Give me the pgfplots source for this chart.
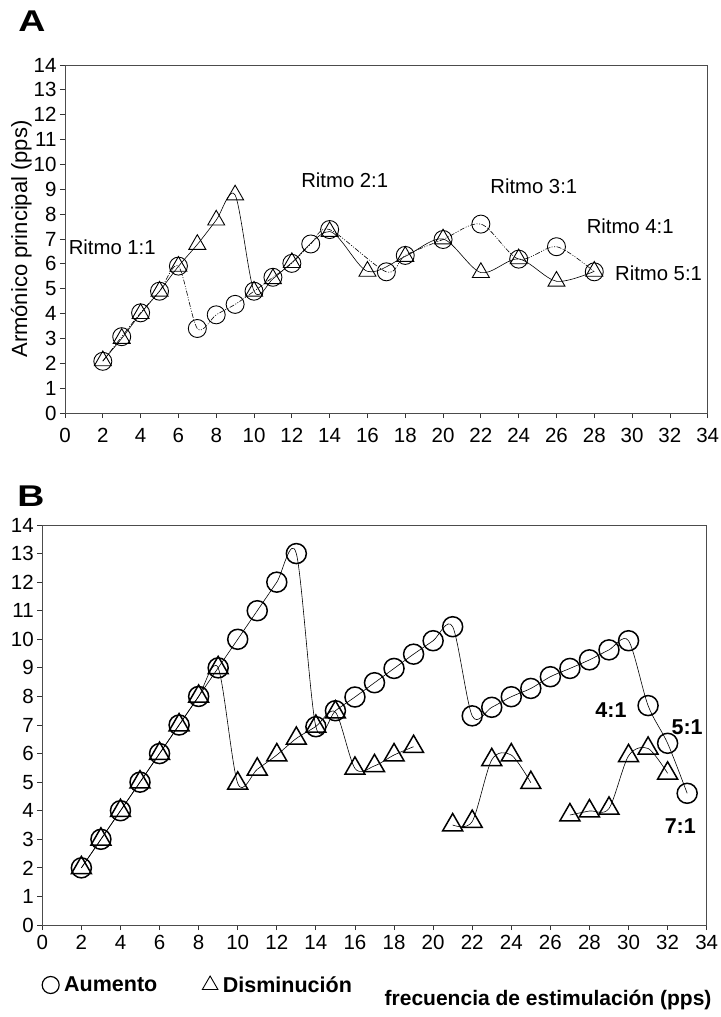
\documentclass[border=0pt]{standalone}
\usepackage{pgfplots}
\pgfplotsset{compat=1.18}
\usepackage{fontspec}
\setmainfont{Liberation Sans}
\newcommand{\fs}{\fontsize{20.3}{23}\selectfont}
\newcommand{\ft}{\fontsize{20.5}{23}\selectfont}
\newcommand{\fb}{\fontsize{21.5}{24}\selectfont\bfseries}

\pgfplotsset{
  refstyle/.style={
    scale only axis,
    xmin=0, xmax=34, ymin=0, ymax=14,
    xtick={0,2,...,34}, ytick={0,1,...,14},
    axis lines*=left,
    axis line style={-, black!70, line width=0.8pt},
    tick align=outside,
    major tick length=5pt,
    tick style={black!80, line width=0.8pt},
    tick label style={font=\ft},
    /pgf/number format/assume math mode=true,
    clip=false,
  }
}

\begin{document}
\begin{tikzpicture}
\path[use as bounding box] (0pt,0pt) rectangle (720pt,-1017pt);

\node[font=\fontsize{30}{34}\selectfont\bfseries] at (32pt,-21pt) {\scalebox{1.25}[1]{A}};
\node[font=\fontsize{30}{34}\selectfont\bfseries] at (31pt,-496pt) {\scalebox{1.25}[1]{B}};

% ---------------- Panel A ----------------
\begin{axis}[refstyle, width=642.7pt, height=348pt, at={(65pt,-413pt)}, anchor=south west,
  xticklabel style={yshift=-7pt},
  ylabel={Armónico principal (pps)},
  ylabel style={font=\fontsize{22}{24}\selectfont, at={(axis description cs:-0.068,0.5)}, anchor=center}]
\draw[black!70, line width=0.8pt] (rel axis cs:0,1) -- (rel axis cs:1,1) -- (rel axis cs:1,0);

% Aumento (circles), dash-dot-dot line
\addplot[black, line width=0.6pt, smooth, dash pattern=on 5pt off 1.5pt on 1pt off 1.5pt on 1pt off 1.5pt,
  mark=o, mark size=9pt, mark options={solid, line width=0.9pt}] coordinates {
 (2,2.08) (3,3.07) (4,4.03) (5,4.9) (6,5.91) (7,3.4) (8,3.95) (9,4.37) (10,4.9)
 (11,5.46) (12,6.02) (13,6.8) (14,7.38) (17,5.68) (18,6.34) (20,6.98) (22,7.6)
 (24,6.19) (26,6.69) (28,5.68)
};
% Disminucion (triangles), solid line
\addplot[black, line width=0.6pt, smooth,
  mark=triangle, mark size=9.8pt, mark options={solid, line width=0.9pt}] coordinates {
 (2,2.1) (3,3.0) (4,4.0) (5,4.9) (6,5.9) (7,6.78) (8,7.76) (9,8.77) (10,4.9)
 (11,5.4) (12,6.05) (14,7.3) (16,5.7) (18,6.3) (20,7.0) (22,5.65) (24,6.2)
 (26,5.3) (28,5.7)
};

\node[font=\fs] at (axis cs:2.5,6.68) {Ritmo 1:1};
\node[font=\fs] at (axis cs:14.8,9.37) {Ritmo 2:1};
\node[font=\fs] at (axis cs:24.8,9.13) {Ritmo 3:1};
\node[font=\fs] at (axis cs:29.9,7.52) {Ritmo 4:1};
\node[font=\fs] at (axis cs:31.4,5.64) {Ritmo 5:1};
\end{axis}

% ---------------- Panel B ----------------
\begin{axis}[refstyle, width=664.4pt, height=400pt, at={(42.3pt,-925pt)}, anchor=south west,
  xticklabel style={yshift=-2pt},
  xlabel={frecuencia de estimulación (pps)},
  xlabel style={font=\fontsize{21}{24}\selectfont\bfseries, at={(axis description cs:1.0125,-0.1875)}, anchor=east},
  legend style={draw=none, fill=none, font=\fb, at={(axis description cs:-0.005,-0.15)}, anchor=west,
    legend columns=2, /tikz/every even column/.append style={column sep=40pt},
    nodes={inner xsep=5pt}},
  legend cell align=left]
\draw[black!70, line width=0.8pt] (rel axis cs:0,1) -- (rel axis cs:1,1) -- (rel axis cs:1,0);

\addplot[black, line width=0.6pt, smooth, forget plot,
  mark=o, mark size=10pt, mark options={line width=1.5pt}] coordinates {
 (2,2) (3,3) (4,4) (5,5) (6,6) (7,7) (8,8) (9,9) (10,10) (11,11) (12,12) (13,13)
 (14,6.94) (15,7.5) (16,7.98) (17,8.48) (18,8.98) (19,9.48) (20,9.95) (21,10.44)
 (22,7.32) (23,7.62) (24,7.99) (25,8.28) (26,8.69) (27,8.98) (28,9.28) (29,9.63)
 (30,9.95) (31,7.68) (32,6.36) (33,4.61)
};
\addplot[black, line width=0.6pt, smooth, forget plot,
  mark=triangle, mark size=11.5pt, mark options={line width=1.5pt}] coordinates {
 (2,2) (3,3) (4,4) (5,5) (6,6) (7,7) (8,8) (9,9) (10,4.96) (11,5.45) (12,5.95)
 (13,6.53) (14,6.95) (15,7.45) (16,5.48) (17,5.57) (18,5.95) (19,6.24)
};
\addplot[black, line width=0.6pt, smooth, forget plot,
  mark=triangle, mark size=11.5pt, mark options={line width=1.5pt}] coordinates {
 (21,3.5) (22,3.62) (23,5.78) (24,5.95) (25,4.98)
};
\addplot[black, line width=0.6pt, smooth, forget plot,
  mark=triangle, mark size=11.5pt, mark options={line width=1.5pt}] coordinates {
 (27,3.85) (28,3.99) (29,4.08) (30,5.92) (31,6.18) (32,5.31)
};

\addlegendimage{only marks, mark=o, mark size=8.5pt, line width=1.2pt}
\addlegendentry{Aumento}
\addlegendimage{only marks, mark=triangle, mark size=9pt, line width=0.9pt}
\addlegendentry{Disminución}

\node[font=\fb] at (axis cs:29.1,7.53) {4:1};
\node[font=\fb] at (axis cs:33.0,6.94) {5:1};
\node[font=\fb] at (axis cs:32.65,3.46) {7:1};
\end{axis}
\end{tikzpicture}
\end{document}
